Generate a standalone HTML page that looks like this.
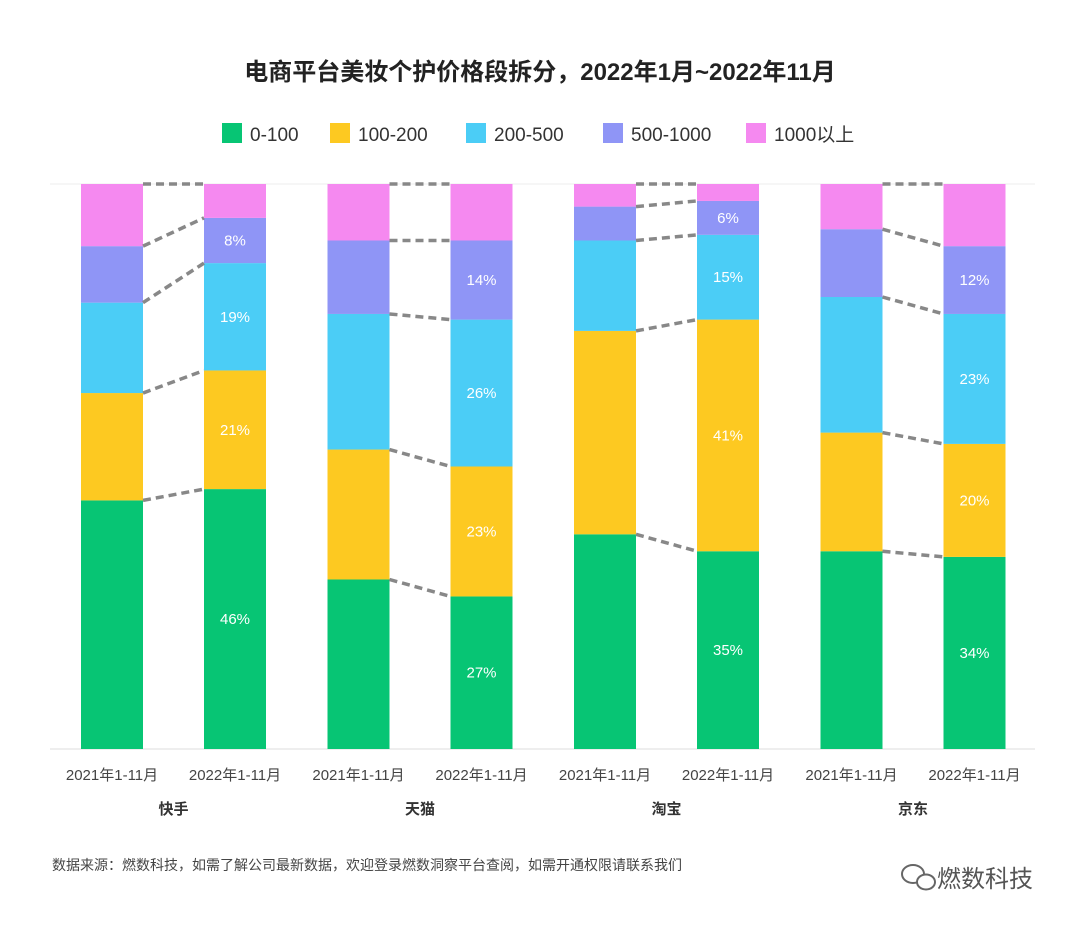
<!DOCTYPE html>
<html><head><meta charset="utf-8"><style>
body{margin:0;width:1080px;height:925px;background:#fff;font-family:"Liberation Sans","Noto Sans CJK SC",sans-serif;overflow:hidden}
svg text{font-family:"Liberation Sans","Noto Sans CJK SC",sans-serif}
</style></head><body>
<svg id="chart" width="1080" height="925">
<text x="540" y="80" text-anchor="middle" font-size="24" font-weight="bold" fill="#222">电商平台美妆个护价格段拆分，2022年1月~2022年11月</text>
<g id="legend"></g>
<line x1="50" y1="749" x2="1035" y2="749" stroke="#ddd"/>
<line x1="50" y1="184" x2="1035" y2="184" stroke="#eee"/>
<g id="bars"></g><g id="links"></g><g id="xlabels"></g>
<text x="52" y="870" font-size="14" fill="#444">数据来源：燃数科技，如需了解公司最新数据，欢迎登录燃数洞察平台查阅，如需开通权限请联系我们</text>
<g>
<ellipse cx="913" cy="874" rx="11" ry="9" fill="none" stroke="#666" stroke-width="2"/>
<ellipse cx="926" cy="882" rx="9" ry="7.5" fill="#fff" stroke="#666" stroke-width="2"/>
<text x="937" y="887" font-size="24" fill="#555">燃数科技</text>
</g>
</svg>
<script>
const platforms=["快手","天猫","淘宝","京东"];
const periods=["2021年1-11月","2022年1-11月"];
const series=["0-100","100-200","200-500","500-1000","1000以上"];
const colors=["#07c574","#fdc921","#4bcdf6","#8f95f6","#f589f0"];
const v0=[44,46,30,27,38,35,35,34];
const v1=[19,21,23,23,36,41,21,20];
const v2=[16,19,24,26,16,15,24,23];
const v3=[10,8,13,14,6,6,12,12];
const v4=[11,6,10,10,4,3,8,11];
const vals=[v0,v1,v2,v3,v4];
const NS="http://www.w3.org/2000/svg";
const yTop=184,yBot=749,bw=62;
const yS=p=>yBot-(yBot-yTop)*p/100;
const xb=i=>81+Math.floor(i/2)*246.5+(i%2)*123;
function mk(t,a,p){const e=document.createElementNS(NS,t);for(const k in a)e.setAttribute(k,a[k]);p.appendChild(e);return e;}
const bars=document.getElementById('bars'),links=document.getElementById('links'),xl=document.getElementById('xlabels'),lg=document.getElementById('legend');
const lx=[222,330,466,603,746];
series.forEach((s,k)=>{
 const r=mk('rect',{x:lx[k],y:123,width:20,height:20,fill:colors[k]},lg);
 
 
 const t=mk('text',{x:lx[k]+28,y:141,'font-size':19,fill:'#333'},lg);t.textContent=s;
 
 
});
const cum=[];
for(let i=0;i<8;i++){
 let c=0;const arr=[0];
 const tot=vals.reduce((a,s)=>a+s[i],0);
 for(let k=0;k<5;k++){
  const v=vals[k][i];const p=v/tot*100;
  const r=mk('rect',{x:xb(i),y:yS(c+p),width:bw,height:yS(c)-yS(c+p),fill:colors[k]},bars);
  
  
  if(i%2==1&&k<4){const t=mk('text',{x:xb(i)+bw/2,y:(yS(c)+yS(c+p))/2+5,'text-anchor':'middle','font-size':15,fill:'#fff'},bars);t.textContent=v+'%';
   
   }
  c+=p;arr.push(c);
 }
 cum.push(arr);
 const t=mk('text',{x:xb(i)+bw/2,y:780,'text-anchor':'middle','font-size':15,fill:'#444'},xl);t.textContent=periods[i%2];
 
 
}
platforms.forEach((p,j)=>{
 const t=mk('text',{x:(xb(2*j)+xb(2*j+1)+bw)/2,y:814,'text-anchor':'middle','font-size':15,'font-weight':'bold',fill:'#333'},xl);t.textContent=p;
 
 
 for(let k=1;k<=5;k++){
  const l=mk('line',{x1:xb(2*j)+bw,y1:yS(cum[2*j][k]),x2:xb(2*j+1),y2:yS(cum[2*j+1][k]),stroke:'#888','stroke-width':3.5,'stroke-dasharray':'8,5'},links);
  
  
 }
});
</script>
</body></html>
